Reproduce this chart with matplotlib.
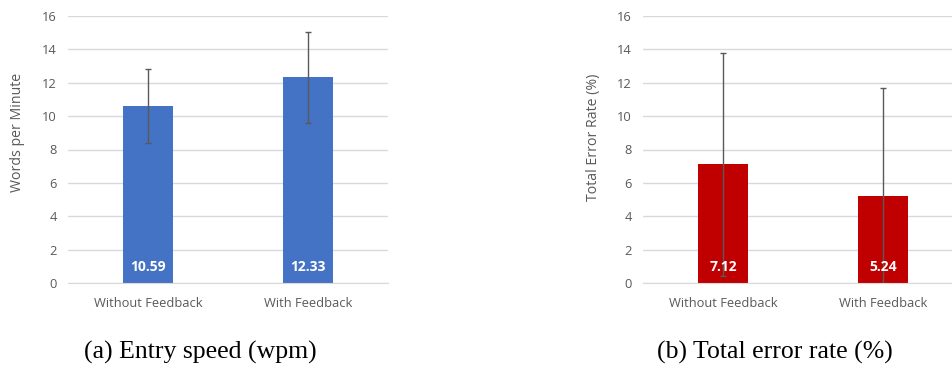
import matplotlib
matplotlib.use("Agg")
import matplotlib.pyplot as plt
import numpy as np

# Study results: entry speed and total error rate, with/without feedback
conditions = ["Without Feedback", "With Feedback"]
wpm_mean = [10.59, 12.33]
wpm_err = [2.23, 2.74]
ter_mean = [7.12, 5.24]
ter_err = [6.68, 6.46]

plt.rcParams['font.family'] = ['Open Sans', 'DejaVu Sans']

GRAY = '#595959'
GRID = '#d9d9d9'

fig = plt.figure(figsize=(9.52, 3.65), dpi=100)


def draw_panel(rect, means, errs, color, ylabel, label_pos, caption, caption_x):
    ax = fig.add_axes(rect)
    x = np.arange(len(conditions))
    ax.bar(x, means, width=0.31, color=color, zorder=2)
    ax.errorbar(x, means, yerr=errs, fmt='none', ecolor=GRAY, elinewidth=1,
                capsize=2.5, capthick=1, zorder=3)
    for xi, v in zip(x, means):
        ax.text(xi, 0.95, f'{v:.2f}', ha='center', va='center', color='white',
                fontsize=10, fontweight='bold', zorder=4)
    ax.set_xlim(-0.5, len(conditions) - 0.5)
    ax.set_ylim(0, 16)
    ax.set_yticks(range(0, 17, 2))
    ax.set_xticks(x)
    ax.set_xticklabels(conditions)
    ax.tick_params(axis='both', length=0, labelsize=9.3, colors=GRAY, pad=8)
    ax.tick_params(axis='x', pad=10)
    ax.grid(axis='y', color=GRID, linewidth=1, zorder=0)
    ax.set_axisbelow(True)
    for s in ['top', 'right', 'left']:
        ax.spines[s].set_visible(False)
    ax.spines['bottom'].set_color(GRID)
    fig.text(label_pos[0], label_pos[1], ylabel, rotation=90, ha='center',
             va='center', fontsize=10.2, color=GRAY)
    fig.text(caption_x, 0.035, caption, ha='center', va='center', fontsize=18.5,
             family='Liberation Serif', color='black')
    return ax


draw_panel([68 / 952, 82 / 365, 320 / 952, 267 / 365], wpm_mean, wpm_err,
           '#4472C4', 'Words per Minute', (18 / 952, 1 - 132 / 365),
           '(a) Entry speed (wpm)', 200 / 952)
draw_panel([643 / 952, 82 / 365, 320 / 952, 267 / 365], ter_mean, ter_err,
           '#C00000', 'Total Error Rate (%)', (593 / 952, 1 - 137 / 365),
           '(b) Total error rate (%)', 775 / 952)

fig.savefig('out.png', dpi=100)
